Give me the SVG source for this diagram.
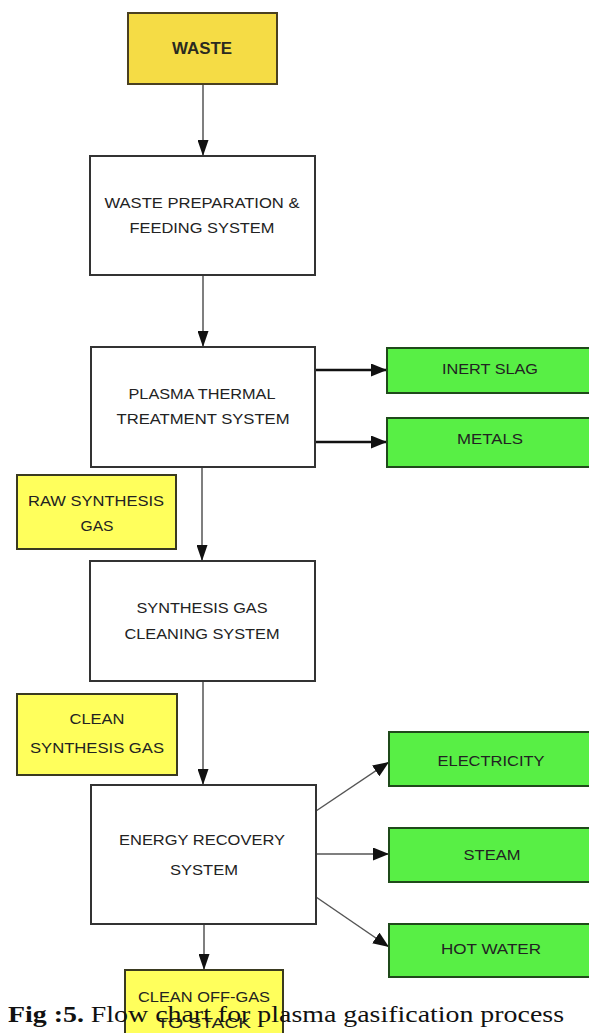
<svg xmlns="http://www.w3.org/2000/svg" width="589" height="1033" viewBox="0 0 589 1033">
<defs>
<style>
.box{fill:#ffffff;stroke:#333;stroke-width:2}
.gold{fill:#f5dc45;stroke:#4a4020;stroke-width:2}
.yel{fill:#ffff5c;stroke:#3a3a20;stroke-width:2}
.grn{fill:#58ef45;stroke:#1f4a1a;stroke-width:2}
.t{font-family:"Liberation Sans",Arial,sans-serif;font-size:15px;fill:#222;text-anchor:middle}
.tb{font-family:"Liberation Sans",Arial,sans-serif;font-size:16px;font-weight:bold;fill:#2a2a20;text-anchor:middle}
.ln{fill:none;stroke:#555;stroke-width:1.5}
.lnk{fill:none;stroke:#111;stroke-width:2.5}
.cap{font-family:"Liberation Serif","DejaVu Serif",serif;font-size:23px;fill:#111}
</style>
<marker id="ah" viewBox="0 0 10 10" refX="10" refY="5" markerWidth="16" markerHeight="11" markerUnits="userSpaceOnUse" orient="auto" preserveAspectRatio="none">
<path d="M0,0 L10,5 L0,10 z" fill="#111"/>
</marker>
<marker id="ah2" viewBox="0 0 10 10" refX="10" refY="5" markerWidth="16" markerHeight="13" markerUnits="userSpaceOnUse" orient="auto" preserveAspectRatio="none">
<path d="M0,0 L10,5 L0,10 z" fill="#111"/>
</marker>
</defs>
<rect width="589" height="1033" fill="#ffffff"/>
<g id="connectors">
<line class="ln" x1="203" y1="84" x2="203" y2="156" marker-end="url(#ah)"/>
<line class="ln" x1="203" y1="275" x2="203" y2="347" marker-end="url(#ah)"/>
<line class="lnk" x1="315" y1="370" x2="387" y2="370" marker-end="url(#ah2)"/>
<line class="lnk" x1="315" y1="442" x2="387" y2="442" marker-end="url(#ah2)"/>
<line class="ln" x1="202" y1="467" x2="202" y2="561" marker-end="url(#ah)"/>
<line class="ln" x1="203" y1="681" x2="203" y2="785" marker-end="url(#ah)"/>
<line class="ln" x1="316" y1="811" x2="389" y2="762" marker-end="url(#ah2)"/>
<line class="ln" x1="316" y1="854" x2="389" y2="854" marker-end="url(#ah2)"/>
<line class="ln" x1="316" y1="897" x2="389" y2="947" marker-end="url(#ah2)"/>
<line class="ln" x1="204" y1="924" x2="204" y2="970" marker-end="url(#ah)"/>
</g>
<g id="waste">
<rect class="gold" x="128" y="13" width="149" height="71"/>
<text class="tb" x="202" y="54" textLength="60" lengthAdjust="spacingAndGlyphs">WASTE</text>
</g>
<g id="prep">
<rect class="box" x="90" y="156" width="225" height="119"/>
<text class="t" x="202" y="208" textLength="195" lengthAdjust="spacingAndGlyphs">WASTE PREPARATION &amp;</text>
<text class="t" x="202" y="233" textLength="145" lengthAdjust="spacingAndGlyphs">FEEDING SYSTEM</text>
</g>
<g id="plasma">
<rect class="box" x="91" y="347" width="224" height="120"/>
<text class="t" x="202" y="399" textLength="147" lengthAdjust="spacingAndGlyphs">PLASMA THERMAL</text>
<text class="t" x="203" y="424" textLength="173" lengthAdjust="spacingAndGlyphs">TREATMENT SYSTEM</text>
</g>
<g id="slag">
<rect class="grn" x="387" y="348" width="215" height="45"/>
<text class="t" x="490" y="374" textLength="96" lengthAdjust="spacingAndGlyphs">INERT SLAG</text>
</g>
<g id="metals">
<rect class="grn" x="387" y="418" width="215" height="49"/>
<text class="t" x="490" y="444" textLength="66" lengthAdjust="spacingAndGlyphs">METALS</text>
</g>
<g id="rawgas">
<rect class="yel" x="17" y="475" width="159" height="74"/>
<text class="t" x="96" y="506" textLength="136" lengthAdjust="spacingAndGlyphs">RAW SYNTHESIS</text>
<text class="t" x="97" y="531" textLength="33" lengthAdjust="spacingAndGlyphs">GAS</text>
</g>
<g id="cleaning">
<rect class="box" x="90" y="561" width="225" height="120"/>
<text class="t" x="202" y="613" textLength="131" lengthAdjust="spacingAndGlyphs">SYNTHESIS GAS</text>
<text class="t" x="202" y="639" textLength="155" lengthAdjust="spacingAndGlyphs">CLEANING SYSTEM</text>
</g>
<g id="cleangas">
<rect class="yel" x="17" y="694" width="160" height="81"/>
<text class="t" x="97" y="724" textLength="55" lengthAdjust="spacingAndGlyphs">CLEAN</text>
<text class="t" x="97" y="753" textLength="134" lengthAdjust="spacingAndGlyphs">SYNTHESIS GAS</text>
</g>
<g id="energy">
<rect class="box" x="91" y="785" width="225" height="139"/>
<text class="t" x="202" y="845" textLength="166" lengthAdjust="spacingAndGlyphs">ENERGY RECOVERY</text>
<text class="t" x="204" y="875" textLength="68" lengthAdjust="spacingAndGlyphs">SYSTEM</text>
</g>
<g id="electricity">
<rect class="grn" x="389" y="732" width="213" height="54"/>
<text class="t" x="491" y="766" textLength="107" lengthAdjust="spacingAndGlyphs">ELECTRICITY</text>
</g>
<g id="steam">
<rect class="grn" x="389" y="828" width="213" height="54"/>
<text class="t" x="492" y="860" textLength="57" lengthAdjust="spacingAndGlyphs">STEAM</text>
</g>
<g id="hotwater">
<rect class="grn" x="389" y="924" width="213" height="53"/>
<text class="t" x="491" y="954" textLength="100" lengthAdjust="spacingAndGlyphs">HOT WATER</text>
</g>
<g id="offgas">
<rect class="yel" x="125" y="970" width="158" height="70"/>
<text class="t" x="204" y="1002" textLength="132" lengthAdjust="spacingAndGlyphs">CLEAN OFF-GAS</text>
<text class="t" x="204" y="1028" textLength="94" lengthAdjust="spacingAndGlyphs">TO STACK</text>
</g>
<g id="caption">
<text class="cap" x="8" y="1022" textLength="556" lengthAdjust="spacingAndGlyphs"><tspan font-weight="bold">Fig :5.</tspan> Flow chart for plasma gasification process</text>
</g>
</svg>
